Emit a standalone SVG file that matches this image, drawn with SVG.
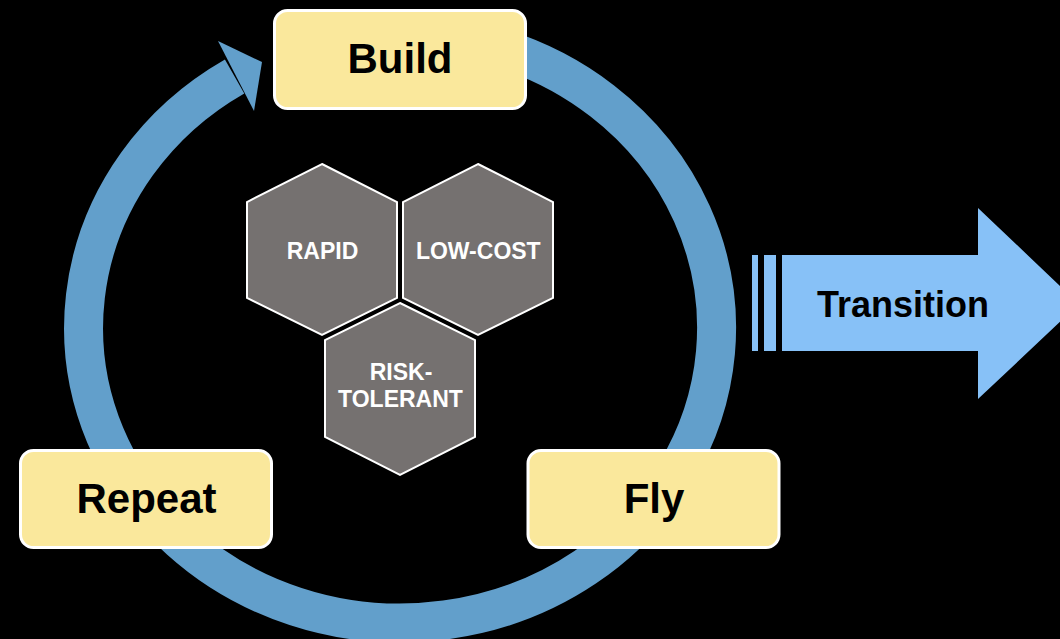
<svg xmlns="http://www.w3.org/2000/svg" width="1060" height="639" viewBox="0 0 1060 639">
<style>
.box{fill:#FAE89C;stroke:#FFFFFF;stroke-width:3}
.lbl{font-family:"Liberation Sans",Arial,sans-serif;font-weight:bold;font-size:42px;fill:#000;text-anchor:middle}
.hex{fill:#757170;stroke:#FFFFFF;stroke-width:2}
.hl{font-family:"Liberation Sans",Arial,sans-serif;font-weight:bold;font-size:23px;fill:#FFFFFF;text-anchor:middle}
.ring{fill:none;stroke:#629FCB;stroke-width:39}
.tr{fill:#87C1F7}
</style>
<rect x="0" y="0" width="1060" height="639" fill="#000000"/>
<g id="connectors">
<path class="ring" d="M 481.9 43 A 316.5 295 0 1 1 234.6 76.5"/>
<polygon points="218,41 262,62 254,111" fill="#629FCB"/>
</g>
<g id="transition">
<rect class="tr" x="752" y="255" width="6" height="96"/>
<rect class="tr" x="764" y="255" width="12" height="96"/>
<polygon class="tr" points="782,255 978,255 978,208 1079,304 978,399 978,351 782,351"/>
<text class="lbl" x="903" y="317" style="font-size:36px">Transition</text>
</g>
<g id="build">
<rect class="box" x="274.5" y="10.5" width="251" height="98" rx="13"/>
<text class="lbl" x="400" y="73">Build</text>
</g>
<g id="repeat">
<rect class="box" x="20.5" y="450.5" width="251" height="97" rx="13"/>
<text class="lbl" x="146.5" y="513">Repeat</text>
</g>
<g id="fly">
<rect class="box" x="528" y="450.5" width="251" height="97" rx="13"/>
<text class="lbl" x="654" y="513">Fly</text>
</g>
<g id="rapid">
<polygon class="hex" points="322,164 397,202 397,298 322,335 247,298 247,202"/>
<text class="hl" x="322.5" y="259">RAPID</text>
</g>
<g id="lowcost">
<polygon class="hex" points="478,164 553,202 553,298 478,335 403,298 403,202"/>
<text class="hl" x="478.3" y="259">LOW-COST</text>
</g>
<g id="risktolerant">
<polygon class="hex" points="400,303 475,340 475,437 400,475 325,437 325,340"/>
<text class="hl" x="401" y="380">RISK-</text>
<text class="hl" x="400.5" y="407">TOLERANT</text>
</g>
</svg>
